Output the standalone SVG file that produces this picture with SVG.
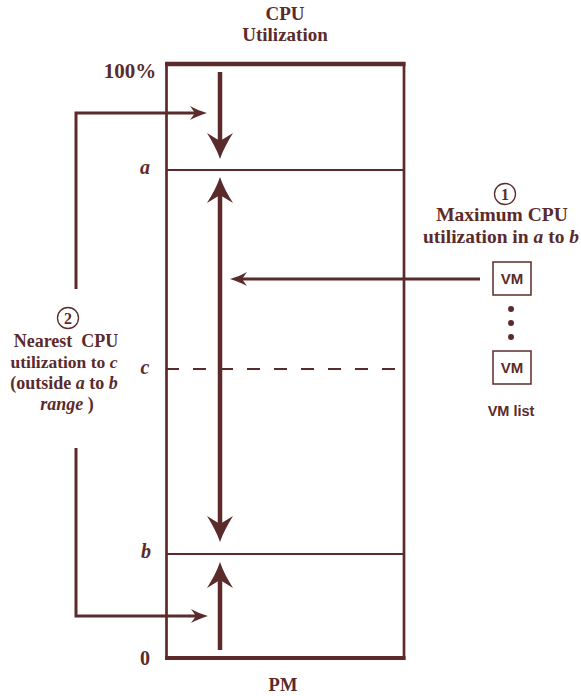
<svg xmlns="http://www.w3.org/2000/svg" width="581" height="696" viewBox="0 0 581 696">
<style>
.t{font-family:"Liberation Serif","Times New Roman",serif;font-weight:bold;fill:#5b2b2b}
.i{font-style:italic}
.s{font-family:"Liberation Sans",Arial,sans-serif;font-weight:bold;fill:#5b2b2b}
.ln{stroke:#5b2b2b;fill:none}
.shaft{stroke:#5b2b2b;stroke-width:4.5;fill:none;marker-end:url(#big)}
.conn{stroke:#5b2b2b;stroke-width:3;fill:none;marker-end:url(#small)}
.box{fill:#fff;stroke:#5b2b2b;stroke-width:1.5}
</style>
<defs>
<marker id="big" viewBox="0 -14 27 28" refX="8" refY="0" markerWidth="27" markerHeight="28" markerUnits="userSpaceOnUse" orient="auto-start-reverse">
<path d="M26,0 C17,-3 8,-8 0,-13 L8,0 L0,13 C8,8 17,3 26,0 Z" fill="#5b2b2b"/>
</marker>
<marker id="small" viewBox="0 -8 18 16" refX="5" refY="0" markerWidth="18" markerHeight="16" markerUnits="userSpaceOnUse" orient="auto">
<path d="M17,0 C11,-2 5,-4 0,-7 L5,0 L0,7 C5,4 11,2 17,0 Z" fill="#5b2b2b"/>
</marker>
</defs>

<g id="pm">
<line class="ln" x1="166.5" y1="62" x2="166.5" y2="660" stroke-width="2.7"/>
<line class="ln" x1="404" y1="62" x2="404" y2="660" stroke-width="2.7"/>
<line class="ln" x1="165" y1="64" x2="405.5" y2="64" stroke-width="4.5"/>
<line class="ln" x1="165" y1="658" x2="405.5" y2="658" stroke-width="4"/>
<line class="ln" x1="166" y1="170" x2="404" y2="170" stroke-width="2"/>
<line class="ln" x1="166" y1="554" x2="404" y2="554" stroke-width="2"/>
<line class="ln" x1="166" y1="369" x2="404" y2="369" stroke-width="2" stroke-dasharray="13 14" stroke="#5e4b4b"/>
</g>

<g id="labels">
<text class="t" x="285" y="20" font-size="19" text-anchor="middle">CPU</text>
<text class="t" x="285" y="41" font-size="19" text-anchor="middle">Utilization</text>
<text class="t" x="130" y="78" font-size="21" text-anchor="middle">100%</text>
<text class="t i" x="145" y="174" font-size="20" text-anchor="middle">a</text>
<text class="t i" x="145" y="374" font-size="20" text-anchor="middle">c</text>
<text class="t i" x="146" y="558" font-size="20" text-anchor="middle">b</text>
<text class="t" x="145" y="665" font-size="20" text-anchor="middle">0</text>
<text class="t" x="283" y="691" font-size="18.5" text-anchor="middle">PM</text>
</g>

<g id="note1">
<circle cx="505" cy="194" r="10.5" fill="none" stroke="#5b2b2b" stroke-width="1.3"/>
<text class="t" x="505" y="200" font-size="16" text-anchor="middle" font-weight="normal">1</text>
<text class="t" x="502" y="221" font-size="19.5" text-anchor="middle">Maximum CPU</text>
<text class="t" x="501" y="243" font-size="19.5" text-anchor="middle">utilization in <tspan class="i">a</tspan> to <tspan class="i">b</tspan></text>
</g>

<g id="vmlist">
<rect class="box" x="493" y="262" width="38" height="33"/>
<text class="s" x="512" y="284" font-size="15" text-anchor="middle">VM</text>
<circle cx="511" cy="309" r="3" fill="#5b2b2b"/>
<circle cx="511" cy="323" r="3" fill="#5b2b2b"/>
<circle cx="511" cy="337" r="3" fill="#5b2b2b"/>
<rect class="box" x="493" y="351" width="38" height="33"/>
<text class="s" x="512" y="373" font-size="15" text-anchor="middle">VM</text>
<text class="s" x="511" y="416" font-size="14.5" text-anchor="middle">VM list</text>
</g>

<g id="note2">
<circle cx="68" cy="318" r="10.5" fill="none" stroke="#5b2b2b" stroke-width="1.3"/>
<text class="t" x="68" y="324" font-size="16" text-anchor="middle">2</text>
<text class="t" x="66" y="347" font-size="18" text-anchor="middle" xml:space="preserve">Nearest  CPU</text>
<text class="t" x="64" y="368" font-size="17.5" text-anchor="middle">utilization to <tspan class="i">c</tspan></text>
<text class="t" x="64" y="389" font-size="18" text-anchor="middle">(outside <tspan class="i">a</tspan> to <tspan class="i">b</tspan></text>
<text class="t" x="67" y="410" font-size="18" text-anchor="middle"><tspan class="i">range</tspan> )</text>
</g>

<g id="connectors">
<line class="shaft" x1="220" y1="72" x2="220" y2="141"/>
<line class="shaft" x1="220" y1="195" x2="220" y2="524" style="marker-start:url(#big)"/>
<line class="shaft" x1="220" y1="650" x2="220" y2="580"/>
<polyline class="conn" points="76,289 76,113 195,113"/>
<polyline class="conn" points="76,448 76,616 196,616"/>
<line class="conn" x1="480" y1="279" x2="242" y2="279" stroke-width="2.5"/>
</g>
</svg>
